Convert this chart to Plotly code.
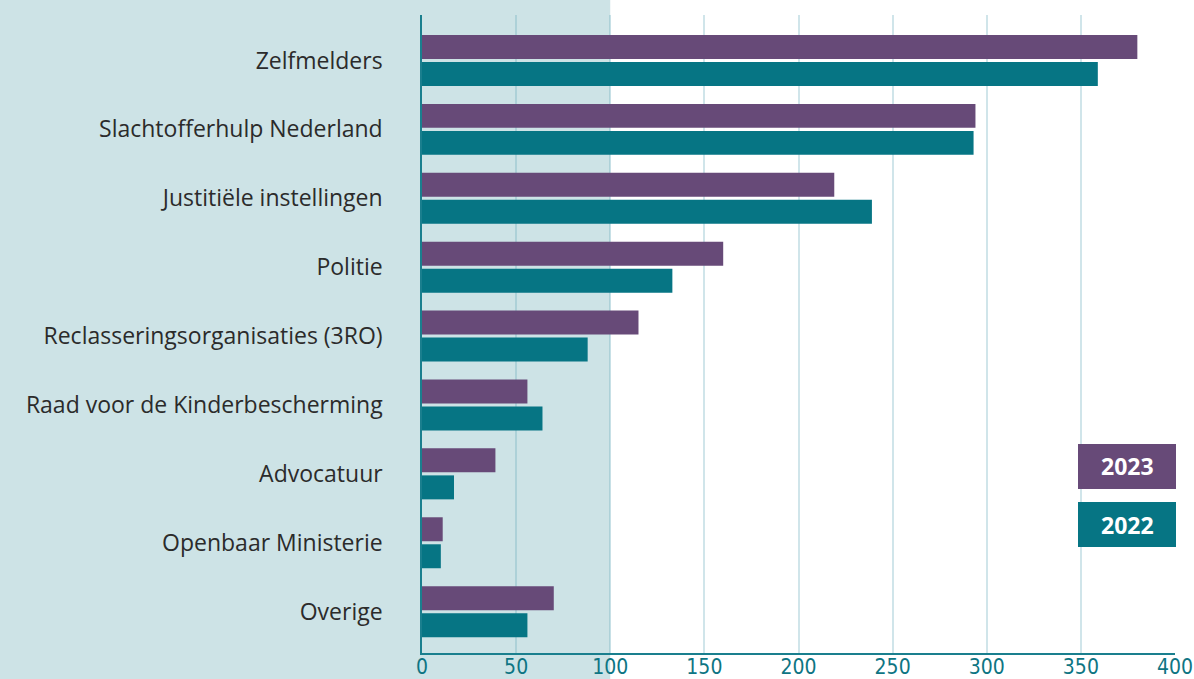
import plotly.graph_objects as go

categories = ["Zelfmelders", "Slachtofferhulp Nederland", "Justitiële instellingen", "Politie",
              "Reclasseringsorganisaties (3RO)", "Raad voor de Kinderbescherming", "Advocatuur",
              "Openbaar Ministerie", "Overige"]
values_2023 = [380, 294, 219, 160, 115, 56, 39, 11, 70]
values_2022 = [359, 293, 239, 133, 88, 64, 17, 10, 56]
x_ticks = [0, 50, 100, 150, 200, 250, 300, 350, 400]

PURPLE = "#674a78"
TEAL = "#067584"
SHADE = "#cde3e6"
AXIS = "#1a7f8e"

W, H = 1194, 679
L, R, T, B = 422, 19, 15, 26
pw, ph = W - L - R, H - T - B

fig = go.Figure()
fig.add_trace(go.Bar(y=categories, x=values_2023, orientation="h", name="2023",
                     marker=dict(color=PURPLE, line=dict(width=0)),
                     width=0.348, offset=-0.37))
fig.add_trace(go.Bar(y=categories, x=values_2022, orientation="h", name="2022",
                     marker=dict(color=TEAL, line=dict(width=0)),
                     width=0.348, offset=0.022))

def px_to_paper_x(px):
    return (px - L) / pw

def px_to_paper_y(py):
    return (H - B - py) / ph

# shaded panel up to x = 100
fig.add_shape(type="rect", xref="paper", yref="paper",
              x0=px_to_paper_x(-5), x1=100 / 400, y0=px_to_paper_y(H + 5), y1=px_to_paper_y(-5),
              fillcolor=SHADE, line=dict(width=0), layer="below")

# legend boxes
for label, color, top in [("2023", PURPLE, 444), ("2022", TEAL, 502)]:
    fig.add_shape(type="rect", xref="paper", yref="paper",
                  x0=px_to_paper_x(1078), x1=px_to_paper_x(1176),
                  y0=px_to_paper_y(top + 45), y1=px_to_paper_y(top),
                  fillcolor=color, line=dict(width=0), layer="above")
    fig.add_annotation(xref="paper", yref="paper",
                       x=px_to_paper_x(1127), y=px_to_paper_y(top + 22.5),
                       xanchor="center", yanchor="middle",
                       text=f"<b>{label}</b>", showarrow=False,
                       font=dict(family="Open Sans", size=23, color="white"))

fig.update_layout(
    width=W, height=H,
    margin=dict(l=L, r=R, t=T, b=B, pad=0, autoexpand=False),
    paper_bgcolor="white", plot_bgcolor="rgba(0,0,0,0)",
    showlegend=False,
    barmode="overlay",
    font=dict(family="Open Sans", color="#2b2b2b"),
)
fig.update_xaxes(range=[0, 400], tickvals=x_ticks, ticktext=[str(v) for v in x_ticks],
                 showgrid=True, gridcolor="rgba(100,170,185,0.3)", gridwidth=1.5,
                 zeroline=False, showline=True, linecolor=AXIS, linewidth=1.5,
                 tickfont=dict(family="Liberation Sans Narrow, DejaVu Sans Condensed, sans-serif",
                               size=21, color="#0e7583"),
                 ticks="", ticklabelstandoff=-6, automargin=False, fixedrange=True)
fig.update_yaxes(type="category", categoryorder="array", categoryarray=categories,
                 range=[8.6, -0.66], showgrid=False, zeroline=False,
                 showline=True, linecolor=AXIS, linewidth=1.5,
                 tickfont=dict(family="Open Sans", size=23, color="#2b2b2b"),
                 ticks="", ticklabelstandoff=33, automargin=False, fixedrange=True)

fig.write_html("out.html", config={"responsive": False, "displayModeBar": False},
               post_script="document.body.style.margin='0';document.body.style.overflow='hidden';")
